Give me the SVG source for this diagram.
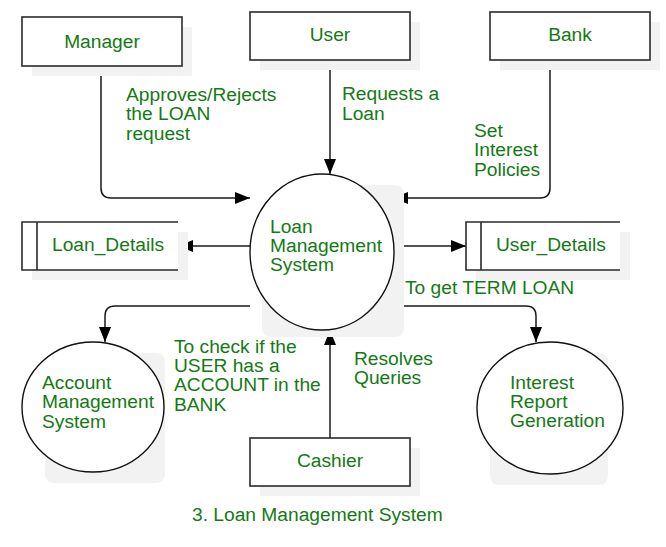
<svg xmlns="http://www.w3.org/2000/svg" width="666" height="547" viewBox="0 0 666 547">
  <style>
    .shadow { fill: #f2f2f2; stroke: none; }
    .box { fill: #ffffff; stroke: #2a2a2a; stroke-width: 1.6; }
    .proc { fill: #ffffff; stroke: #111111; stroke-width: 1.4; }
    .store { fill: #ffffff; stroke: none; }
    .storeline { fill: none; stroke: #2a2a2a; stroke-width: 1.6; }
    .conn { fill: none; stroke: #1a1a1a; stroke-width: 1.5; marker-end: url(#arrow); }
    text { font-family: "Liberation Sans", Arial, sans-serif; font-size: 19.2px; fill: #137a13; }
    .mid { text-anchor: middle; }
  </style>
  <defs>
    <marker id="arrow" markerUnits="userSpaceOnUse" markerWidth="16" markerHeight="13" refX="15" refY="6" orient="auto">
      <path d="M0,0 L15,6 L0,12 Z" fill="#000000"/>
    </marker>
  </defs>
  <rect width="666" height="547" fill="#ffffff"/>

  <g id="connectors">
    <path class="conn" d="M101,66 V188 Q101,198 111,198 H250"/>
    <path class="conn" d="M330,60 V174"/>
    <path class="conn" d="M550,60 V188 Q550,198 540,198 H393"/>
    <path class="conn" d="M250,246 H178"/>
    <path class="conn" d="M394,246 H466"/>
    <path class="conn" d="M250,306 H115 Q105,306 105,316 V342"/>
    <path class="conn" d="M394,306 H526 Q536,306 536,316 V342"/>
    <path class="conn" d="M330,438 V330"/>
  </g>

  <g id="manager">
    <rect class="shadow" x="32" y="27" width="160" height="49"/>
    <rect class="box" x="22" y="17" width="160" height="49"/>
    <text class="mid" x="102" y="48">Manager</text>
  </g>
  <g id="user">
    <rect class="shadow" x="260" y="22" width="160" height="48"/>
    <rect class="box" x="250" y="12" width="160" height="48"/>
    <text class="mid" x="330" y="41">User</text>
  </g>
  <g id="bank">
    <rect class="shadow" x="500" y="22" width="160" height="48"/>
    <rect class="box" x="490" y="12" width="160" height="48"/>
    <text class="mid" x="570" y="41">Bank</text>
  </g>

  <g id="loan-management-system">
    <path class="shadow" d="M322,185 H394 Q404,185 404,195 V327 Q404,337 394,337 H272 Q262,337 262,327 V252 H322 Z"/>
    <ellipse class="proc" cx="322" cy="252" rx="72" ry="78"/>
    <text x="270" y="233">Loan</text>
    <text x="270" y="252">Management</text>
    <text x="270" y="271">System</text>
  </g>

  <g id="loan-details">
    <rect class="shadow" x="32" y="232" width="156" height="48"/>
    <rect class="store" x="22" y="222" width="156" height="48"/>
    <path class="storeline" d="M178,222 H22 V270 H178 M37,222 V270"/>
    <text x="52" y="251">Loan_Details</text>
  </g>
  <g id="user-details">
    <rect class="shadow" x="476" y="232" width="154" height="48"/>
    <rect class="store" x="466" y="222" width="154" height="48"/>
    <path class="storeline" d="M620,222 H466 V270 H620 M481,222 V270"/>
    <text x="496" y="251">User_Details</text>
  </g>

  <g id="account-management-system">
    <path class="shadow" d="M93,353 H155 Q165,353 165,363 V473 Q165,483 155,483 H55 Q45,483 45,473 V407 H93 Z"/>
    <ellipse class="proc" cx="93" cy="407" rx="71" ry="65"/>
    <text x="42" y="389">Account</text>
    <text x="42" y="408">Management</text>
    <text x="42" y="428">System</text>
  </g>
  <g id="interest-report-generation">
    <path class="shadow" d="M550,353 H598 Q608,353 608,363 V475 Q608,485 598,485 H500 Q490,485 490,475 V408 H550 Z"/>
    <ellipse class="proc" cx="550" cy="408" rx="73" ry="66"/>
    <text x="510" y="389">Interest</text>
    <text x="510" y="408">Report</text>
    <text x="510" y="427">Generation</text>
  </g>
  <g id="cashier">
    <rect class="shadow" x="260" y="448" width="160" height="48"/>
    <rect class="box" x="250" y="438" width="160" height="48"/>
    <text class="mid" x="330" y="467">Cashier</text>
  </g>

  <g id="labels">
    <text x="126" y="101">Approves/Rejects</text>
    <text x="126" y="120">the LOAN</text>
    <text x="126" y="140">request</text>
    <text x="342" y="100">Requests a</text>
    <text x="342" y="120">Loan</text>
    <text x="474" y="137">Set</text>
    <text x="474" y="156">Interest</text>
    <text x="474" y="176">Policies</text>
    <text x="405" y="294">To get TERM LOAN</text>
    <text x="174" y="353">To check if the</text>
    <text x="174" y="372">USER has a</text>
    <text x="174" y="391">ACCOUNT in the</text>
    <text x="174" y="411">BANK</text>
    <text x="354" y="365">Resolves</text>
    <text x="354" y="384">Queries</text>
    <text x="192" y="521">3. Loan Management System</text>
  </g>
</svg>
